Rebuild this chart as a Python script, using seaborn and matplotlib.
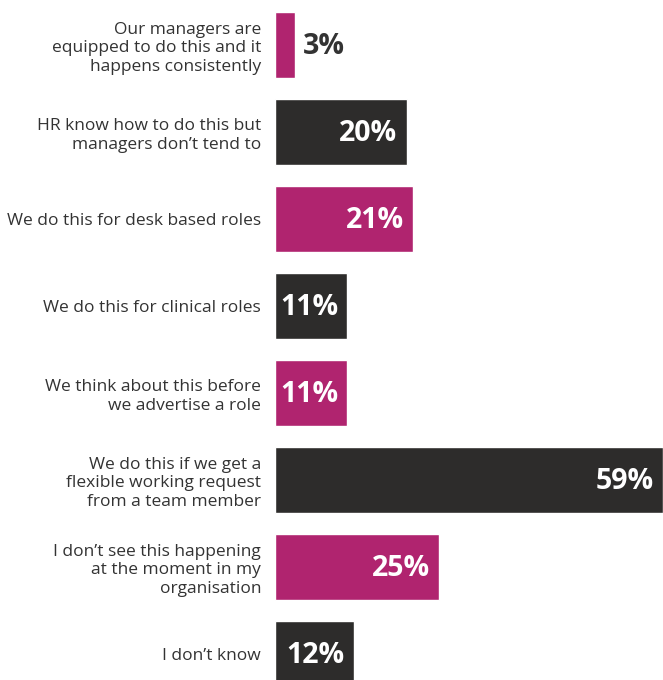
import matplotlib
matplotlib.use("Agg")
import matplotlib.pyplot as plt
import seaborn as sns
import pandas as pd

categories = [
    "Our managers are\nequipped to do this and it\nhappens consistently",
    "HR know how to do this but\nmanagers don\u2019t tend to",
    "We do this for desk based roles",
    "We do this for clinical roles",
    "We think about this before\nwe advertise a role",
    "We do this if we get a\nflexible working request\nfrom a team member",
    "I don\u2019t see this happening\nat the moment in my\norganisation",
    "I don\u2019t know",
]
values = [3, 20, 21, 11, 11, 59, 25, 12]
groups = ["a", "b", "a", "b", "a", "b", "a", "b"]
palette = {"a": "#B0246F", "b": "#2D2C2B"}

df = pd.DataFrame({"label": categories, "value": values, "group": groups})

sns.set_theme(style="white")
plt.rcParams["font.family"] = ["Open Sans", "DejaVu Sans"]

fig = plt.figure(figsize=(6.63, 6.8), dpi=100)
ax = fig.add_axes([275 / 663, 0, 388 / 663, 1])

sns.barplot(data=df, y="label", x="value", hue="group", palette=palette,
            orient="h", width=0.76, dodge=False, legend=False, ax=ax,
            saturation=1)

ax.set_xlim(0, 59)
ax.set_ylim(7.299, -0.517)
ax.set_xlabel("")
ax.set_ylabel("")
ax.set_xticks([])
for s in ax.spines.values():
    s.set_visible(False)
ax.tick_params(axis="y", length=0, pad=10)
for t in ax.get_yticklabels():
    t.set_fontsize(12.5)
    t.set_color("#333333")
    t.set_horizontalalignment("right")
    t.set_multialignment("right")
    t.set_linespacing(1.22)

for i, v in enumerate(values):
    if v < 6:
        ax.text(v + 1.3, i + 0.02, f"{v}%", ha="left", va="center",
                fontsize=20.5, fontweight="bold", color="#333333")
    else:
        ax.text(v - 1.4, i + 0.02, f"{v}%", ha="right", va="center",
                fontsize=20.5, fontweight="bold", color="white")

fig.savefig("out.png", dpi=100)
